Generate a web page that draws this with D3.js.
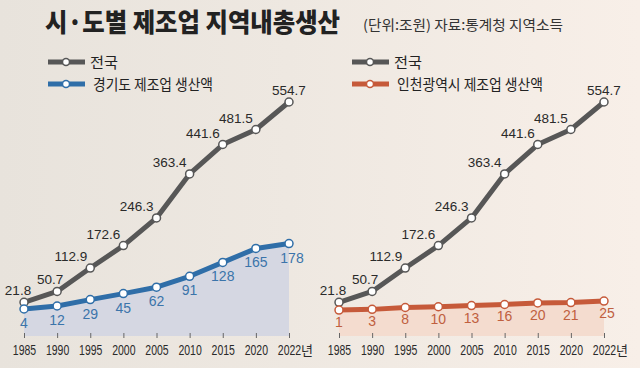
<!DOCTYPE html>
<html>
<head>
<meta charset="utf-8">
<script src="https://cdn.jsdelivr.net/npm/d3@7"></script>
<style>
  html, body { margin: 0; padding: 0; }
  svg { display: block; }
</style>
</head>
<body>
<svg id="chart" width="640" height="368"></svg>
<script>
// data (조원)
const years = ['1985', '1990', '1995', '2000', '2005', '2010', '2015', '2020', '2022'];
const national = [21.8, 50.7, 112.9, 172.6, 246.3, 363.4, 441.6, 481.5, 554.7];
const gyeonggi = [4, 12, 29, 45, 62, 91, 128, 165, 178];
const incheon = [1, 3, 8, 10, 13, 16, 20, 21, 25];

const colors = {
    national: '#575757',
    blue: '#2f6ea8',
    blueText: '#3b74aa',
    blueArea: '#d5d7e2',
    red: '#c65a3a',
    redText: '#c0603f',
    redArea: '#f4dccf',
    text: '#2a2a2a'
};

const svg = d3.select('#chart');
const krFont = '"Noto Sans CJK KR", "Noto Sans", sans-serif';
const numFont = '"Liberation Sans", Arial, sans-serif';

// background paper
const defs = svg.append('defs');
const bg = defs.append('linearGradient').attr('id', 'bg');
bg.append('stop').attr('offset', '0%').attr('stop-color', '#e8e3dc');
bg.append('stop').attr('offset', '45%').attr('stop-color', '#eee8e1');
bg.append('stop').attr('offset', '100%').attr('stop-color', '#f8efe8');
svg.append('rect').attr('width', 640).attr('height', 368).attr('fill', 'url(#bg)');

// title
svg.append('text')
    .attr('x', 45).attr('y', 32)
    .attr('textLength', 295).attr('lengthAdjust', 'spacingAndGlyphs')
    .style('font-family', krFont).style('font-weight', 900).style('font-size', '26px')
    .style('fill', '#222')
    .text('시·도별 제조업 지역내총생산');

svg.append('text')
    .attr('x', 363).attr('y', 30)
    .attr('textLength', 200).attr('lengthAdjust', 'spacingAndGlyphs')
    .style('font-family', krFont).style('font-size', '14px')
    .style('fill', '#333')
    .text('(단위:조원)  자료:통계청 지역소득');

const y = d3.scaleLinear().domain([0, 554.7]).range([310.5, 102]);
const baseY = 336;

function panel(x0, x1, legendX, series, color, textColor, areaColor, name, nameWidth, labelDy) {
    const x = d3.scalePoint().domain(years).range([x0, x1]);
    const g = svg.append('g');

    // legend
    const legend = [
        { label: '전국', color: colors.national, w: 28 },
        { label: name, color: color, w: nameWidth }
    ];
    legend.forEach((l, i) => {
        const ly = 62 + i * 22;
        g.append('line')
            .attr('x1', legendX).attr('x2', legendX + 37)
            .attr('y1', ly).attr('y2', ly)
            .attr('stroke', l.color).attr('stroke-width', 5);
        g.append('circle')
            .attr('cx', legendX + 18).attr('cy', ly).attr('r', 3.5)
            .attr('fill', '#fff').attr('stroke', l.color).attr('stroke-width', 1.5);
        g.append('text')
            .attr('x', legendX + 42 + (i ? 3 : 0)).attr('y', ly + 5.5)
            .attr('textLength', l.w).attr('lengthAdjust', 'spacingAndGlyphs')
            .style('font-family', krFont).style('font-size', '15px')
            .style('fill', '#222')
            .text(l.label);
    });

    // area under regional series
    const area = d3.area()
        .x((d, i) => x(years[i]))
        .y0(baseY)
        .y1(d => y(d));
    g.append('path')
        .datum(series)
        .attr('d', area)
        .attr('fill', areaColor);

    // x axis
    const axis = g.append('g')
        .attr('transform', `translate(0,${baseY - 3})`)
        .call(d3.axisBottom(x).tickSize(5).tickPadding(4));
    axis.select('.domain').remove();
    axis.selectAll('.tick line').attr('stroke', '#666').attr('stroke-width', 1);
    axis.selectAll('.tick text')
        .style('font-family', numFont).style('font-size', '15px')
        .style('fill', colors.text)
        .attr('transform', 'scale(0.7,1)')
        .attr('dy', '0.9em');
    g.append('text')
        .attr('x', x('2022') + 12).attr('y', baseY + 19)
        .style('font-family', krFont).style('font-size', '13px')
        .style('fill', colors.text)
        .text('년');

    const line = d3.line()
        .x((d, i) => x(years[i]))
        .y(d => y(d));

    // national line
    g.append('path')
        .datum(national)
        .attr('d', line)
        .attr('fill', 'none')
        .attr('stroke', colors.national)
        .attr('stroke-width', 5)
        .attr('stroke-linejoin', 'round');

    // regional line
    g.append('path')
        .datum(series)
        .attr('d', line)
        .attr('fill', 'none')
        .attr('stroke', color)
        .attr('stroke-width', 5)
        .attr('stroke-linejoin', 'round');

    [[national, colors.national], [series, color]].forEach(([data, c]) => {
        g.selectAll(null)
            .data(data)
            .join('circle')
            .attr('cx', (d, i) => x(years[i]))
            .attr('cy', d => y(d))
            .attr('r', 4)
            .attr('fill', '#fff')
            .attr('stroke', c)
            .attr('stroke-width', 1.5);
    });

    // national labels
    const last = national.length - 1;
    g.selectAll(null)
        .data(national)
        .join('text')
        .attr('x', (d, i) => x(years[i]))
        .attr('y', d => y(d))
        .attr('dx', (d, i) => i === 0 ? -6 : i === 1 ? -7 : i === last ? 0 : -3)
        .attr('dy', -7)
        .attr('text-anchor', (d, i) => (i <= 1 || i === last) ? 'middle' : 'end')
        .style('font-family', numFont).style('font-size', '13.5px')
        .style('fill', colors.text)
        .text(d => d.toFixed(1));

    // regional labels
    g.selectAll(null)
        .data(series)
        .join('text')
        .attr('x', (d, i) => x(years[i]))
        .attr('y', d => y(d))
        .attr('dx', (d, i) => i === last ? 3 : 0)
        .attr('dy', labelDy)
        .attr('text-anchor', 'middle')
        .style('font-family', numFont).style('font-size', '14px')
        .style('fill', textColor)
        .text(d => d);
}

panel(24, 289, 48, gyeonggi, colors.blue, colors.blueText, colors.blueArea, '경기도 제조업 생산액', 120, 19);
panel(339, 604, 352, incheon, colors.red, colors.redText, colors.redArea, '인천광역시 제조업 생산액', 146, 17);
</script>
</body>
</html>
